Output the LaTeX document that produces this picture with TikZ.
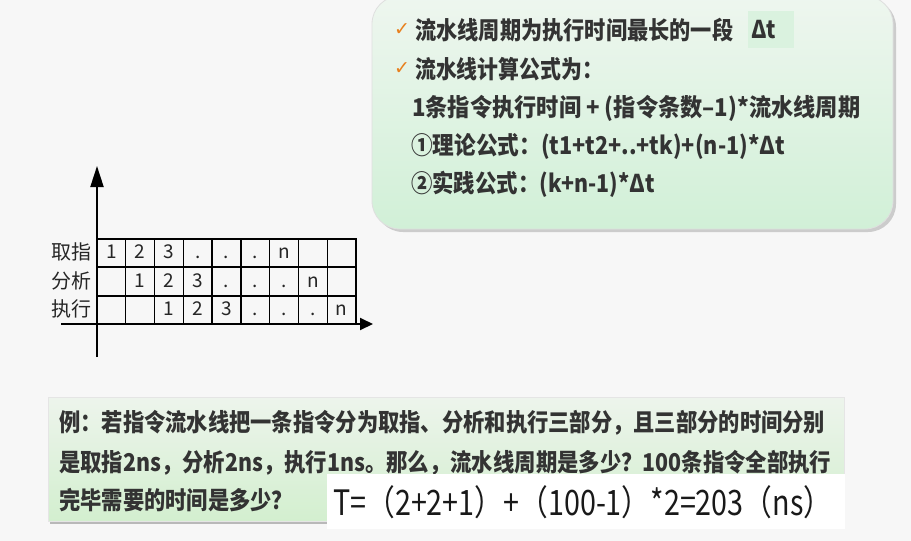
\documentclass[tikz,border=0pt]{standalone}
\usepackage{fontspec}
\setmainfont{Noto Sans CJK SC}
\newfontfamily\dejavu{DejaVu Sans}
\usetikzlibrary{arrows.meta}
\definecolor{bg}{HTML}{F7F7F7}
\definecolor{txt}{HTML}{333333}
\definecolor{gtop}{HTML}{EEF6EF}
\definecolor{gbot}{HTML}{D1F0D7}
\definecolor{btop}{HTML}{EDF4EC}
\definecolor{bbot}{HTML}{D3EFCF}
\definecolor{hl}{HTML}{DAF2DF}
\definecolor{chk}{HTML}{E8801E}
\newcommand{\fitw}[2]{\resizebox{#1}{\height}{#2}}
\tikzset{
  boxtxt/.style={anchor=west, inner sep=0pt, text=txt, font=\fontsize{24.5}{24.5}\selectfont\bfseries},
  checkmk/.style={anchor=west, inner sep=0pt, text=chk, font=\dejavu\bfseries\fontsize{19}{19}\selectfont},
  cell/.style={draw=black, line width=1.4pt, minimum width=28.78pt, minimum height=28.33pt, inner sep=0pt,
    text height=13pt, text depth=2pt, text=black!85, font=\fontsize{19}{19}\selectfont},
  rowlbl/.style={inner sep=0pt, text=black!85, font=\fontsize{20}{20}\selectfont},
  axisline/.style={line width=2pt, black},
}
\begin{document}
\begin{tikzpicture}[x=1pt,y=-1pt]
\fill[bg] (0,0) rectangle (911,541);
\useasboundingbox (0,0) rectangle (911,541);

% ---------- top-right box ----------
\fill[gray!40, rounded corners=28pt] (375,-1) rectangle (896,232);
\path[draw=gray!25, line width=0.8pt, top color=gtop, bottom color=gbot, rounded corners=28pt] (372,-4) rectangle (893,229);
\fill[hl] (748,11) rectangle (794,48);

\node[checkmk] (c1) at (394,30) {✓};
\node[boxtxt] (t1) at (415,30) {\fitw{318pt}{流水线周期为执行时间最长的一段}};
\node[boxtxt] (t1b) at (751,30) {\fitw{25pt}{Δt}};
\node[checkmk] (c2) at (394,69) {✓};
\node[boxtxt] (t2) at (415,69) {\fitw{188pt}{流水线计算公式为：}};
\node[boxtxt] (t3) at (412,108) {\fitw{448pt}{1条指令执行时间 + (指令条数–1)*流水线周期}};
\node[boxtxt] (t4) at (411,146) {\fitw{374pt}{①理论公式：(t1+t2+..+tk)+(n-1)*Δt}};
\node[boxtxt] (t5) at (411,184) {\fitw{244pt}{②实践公式：(k+n-1)*Δt}};

% ---------- pipeline diagram ----------
\coordinate (yb) at (97,357);
\coordinate (yt) at (97,166);
\coordinate (xl) at (61,324);
\coordinate (xr) at (373,324);
\draw[axisline, -{Triangle[length=21pt,width=13pt]}] (yb) -- (yt);
\draw[axisline, -{Triangle[length=13pt,width=12pt]}] (xl) -- (xr);

\foreach \c/\a/\b/\d in {1/1/{}/{}, 2/2/1/{}, 3/3/2/1, 4/./3/2, 5/././3, 6/./././, 7/n/./., 8/{}/n/., 9/{}/{}/n}{
  \node[cell] (r1c\c) at ({97+(\c-0.5)*28.78}, 253) {\a};
  \node[cell] (r2c\c) at ({97+(\c-0.5)*28.78}, 281.5) {\b};
  \node[cell] (r3c\c) at ({97+(\c-0.5)*28.78}, 310) {\d};
}
\node[rowlbl] (l1) at (71,252) {取指};
\node[rowlbl] (l2) at (71,281) {分析};
\node[rowlbl] (l3) at (71,309) {执行};

% ---------- bottom example box ----------
\fill[gray!55] (50,400) rectangle (845,524);
\path[draw=gray!20, line width=0.6pt, top color=btop, bottom color=bbot] (48,397) rectangle (844,521);
\node[boxtxt] (e1) at (59,423) {\fitw{766pt}{例：若指令流水线把一条指令分为取指、分析和执行三部分，且三部分的时间分别}};
\node[boxtxt] (e2) at (59,463) {\fitw{772pt}{是取指2ns，分析2ns，执行1ns。那么，流水线周期是多少？100条指令全部执行}};
\node[boxtxt] (e3) at (59,500) {\fitw{234pt}{完毕需要的时间是多少？}};

\fill[white] (327,474) rectangle (845,529);
\node[anchor=west, inner sep=0pt, text=black!90, font=\fontsize{35}{35}\selectfont] (ans) at (333,502)
  {\fitw{499pt}{T=（2+2+1）+（100-1）*2=203（ns）}};
\end{tikzpicture}
\end{document}
